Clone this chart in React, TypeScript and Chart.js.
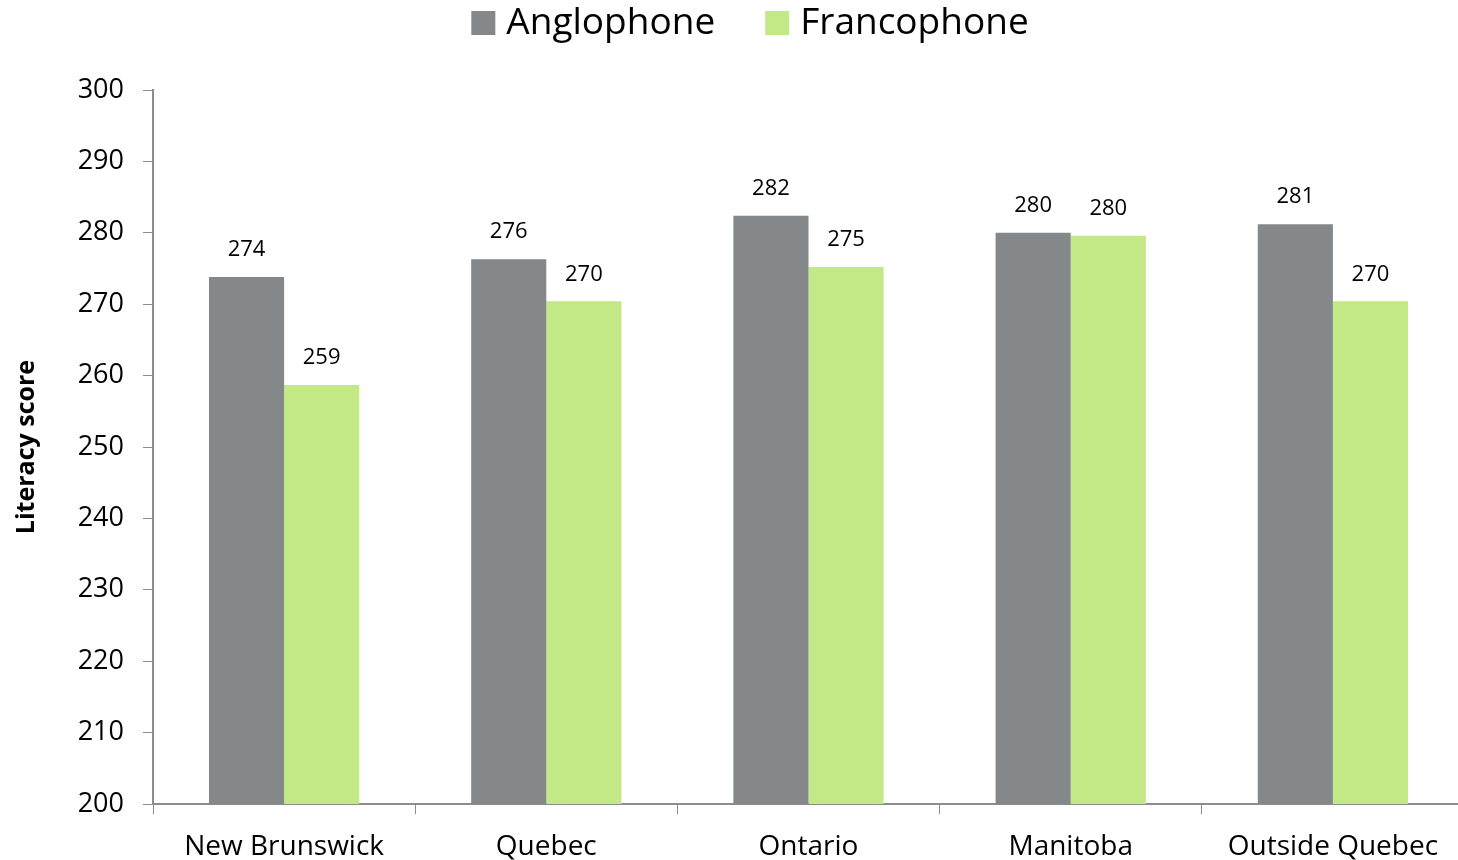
import React, { useEffect, useRef } from "react";
import { Chart, registerables } from "chart.js";

Chart.register(...registerables);

const categories = ["New Brunswick", "Quebec", "Ontario", "Manitoba", "Outside Quebec"];
const anglophone = [273.8, 276.3, 282.4, 280.0, 281.2];
const francophone = [258.7, 270.4, 275.2, 279.6, 270.4];
const yTicks = [200, 210, 220, 230, 240, 250, 260, 270, 280, 290, 300];

const FONT = "'Open Sans', sans-serif";
const AXIS = "#8c8c8c";

const valueLabels = {
  id: "valueLabels",
  afterDatasetsDraw(chart: any) {
    const ctx = chart.ctx;
    ctx.save();
    ctx.font = `22px ${FONT}`;
    ctx.fillStyle = "#000";
    ctx.textAlign = "center";
    ctx.textBaseline = "middle";
    chart.data.datasets.forEach((ds: any, i: number) => {
      const meta = chart.getDatasetMeta(i);
      meta.data.forEach((bar: any, j: number) => {
        ctx.fillText(String(Math.round(ds.data[j])), bar.x, bar.y - 27);
      });
    });
    ctx.restore();
  },
};

const topLegend = {
  id: "topLegend",
  afterDraw(chart: any) {
    const ctx = chart.ctx;
    ctx.save();
    ctx.font = `37px ${FONT}`;
    ctx.textBaseline = "middle";
    ctx.textAlign = "left";
    const box = 24, gap = 11, itemGap = 50;
    const items = chart.data.datasets.map((ds: any) => ({
      label: ds.label,
      color: ds.backgroundColor,
      w: box + gap + ctx.measureText(ds.label).width,
    }));
    const total = items.reduce((s: number, it: any) => s + it.w, 0) + itemGap * (items.length - 1);
    let x = 750 - total / 2;
    const cy = 23;
    items.forEach((it: any) => {
      ctx.fillStyle = it.color;
      ctx.fillRect(x, cy - box / 2, box, box);
      ctx.fillStyle = "#000";
      ctx.fillText(it.label, x + box + gap, cy);
      x += it.w + itemGap;
    });
    ctx.restore();
  },
};

export default function App() {
  const ref = useRef<HTMLCanvasElement>(null);
  useEffect(() => {
    document.body.style.margin = "0";
    document.body.style.overflow = "hidden";
    const chart = new Chart(ref.current!, {
      type: "bar",
      data: {
        labels: categories,
        datasets: [
          { label: "Anglophone", data: anglophone, backgroundColor: "#84888b" },
          { label: "Francophone", data: francophone, backgroundColor: "#c3e886" },
        ],
      },
      options: {
        responsive: false,
        animation: false,
        layout: { padding: { left: 0, right: 0, top: 90, bottom: 0 } },
        datasets: { bar: { categoryPercentage: 0.573, barPercentage: 1 } },
        plugins: {
          legend: { display: false },
          tooltip: { enabled: false },
        },
        scales: {
          x: {
            offset: true,
            grid: { offset: true, drawOnChartArea: false, drawTicks: true, tickLength: 10, color: AXIS },
            border: { color: AXIS, width: 2 },
            ticks: { font: { family: FONT, size: 28 }, color: "#000", padding: 16, maxRotation: 0 },
            afterFit(scale: any) { scale.height = 56; },
          },
          y: {
            min: 200,
            max: 300,
            afterBuildTicks(scale: any) { scale.ticks = yTicks.map((v) => ({ value: v })); },
            grid: { drawOnChartArea: false, drawTicks: true, tickLength: 10, color: AXIS },
            border: { color: AXIS, width: 2 },
            ticks: { font: { family: FONT, size: 27 }, color: "#000", padding: 19 },
            title: { display: true, text: "Literacy score", font: { family: FONT, size: 25, weight: "bold" }, color: "#000", padding: { top: 12, bottom: 0 } },
            afterFit(scale: any) { scale.width = 153; },
          },
        },
      },
      plugins: [valueLabels, topLegend],
    });
    return () => chart.destroy();
  }, []);
  return (
    <div style={{ width: 1458, height: 860, overflow: "hidden", position: "relative" }}>
      <canvas ref={ref} width={1464} height={860} style={{ display: "block" }} />
    </div>
  );
}
